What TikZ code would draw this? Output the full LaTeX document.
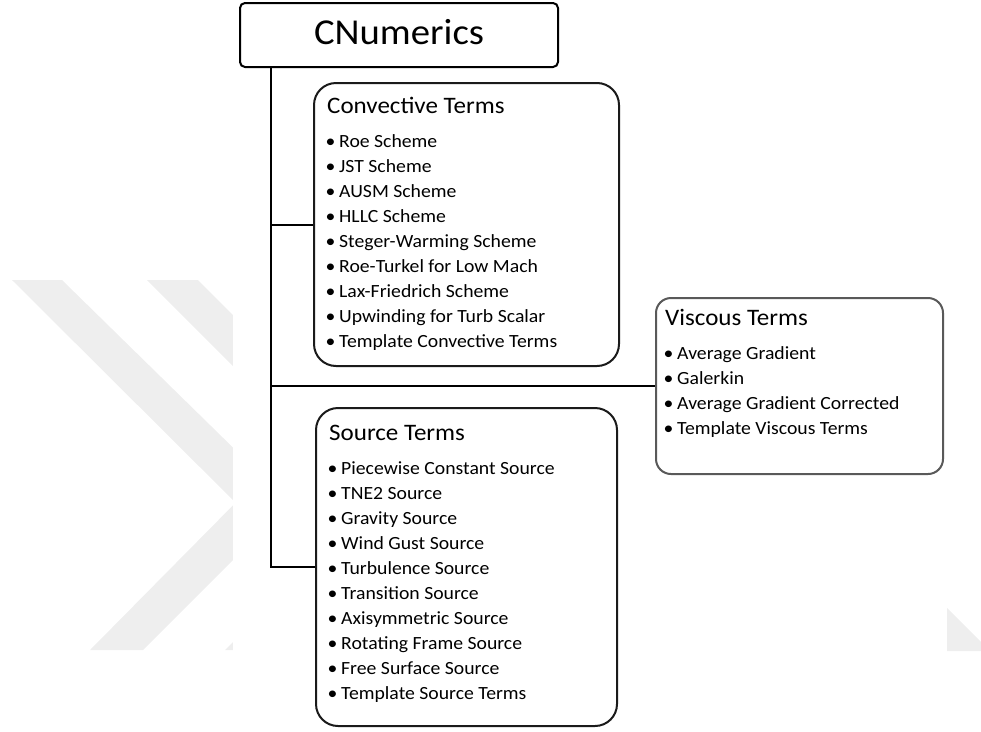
\documentclass[tikz,border=0pt]{standalone}
\usepackage{fontspec}
\setmainfont{Carlito}[FakeStretch=1.06]
\usetikzlibrary{positioning}
\definecolor{cnline}{HTML}{1A1A1A}
\definecolor{cngray}{HTML}{595959}
\definecolor{cnmark}{HTML}{EEEEEE}
\tikzset{
  rootbox/.style={rectangle, rounded corners=5pt, draw=black, line width=2pt, minimum width=318pt,
    minimum height=64pt, inner sep=0pt, text depth=6pt, font=\fontsize{36.5}{42}\selectfont},
  termbox/.style={rectangle, rounded corners=22pt, draw=cnline, line width=2pt, inner sep=0pt,
    anchor=north west},
  termtitle/.style={anchor=base west, inner sep=0pt, font=\fontsize{23.6}{28}\selectfont},
  termitem/.style={anchor=base west, inner sep=0pt, font=\fontsize{18.6}{22}\selectfont},
  branch/.style={line width=2pt, draw=black},
}

\begin{document}
\begin{tikzpicture}[x=1pt, y=-1pt]
  \useasboundingbox (0,0) rectangle (981,731);
  \fill[cnmark] (12,280) -- (62,280) -- (260,474) -- (260,527) -- cycle;
  \fill[cnmark] (147,280) -- (198,280) -- (260,342) -- (260,393) -- cycle;
  \fill[cnmark] (90,650) -- (143,650) -- (260,533) -- (260,478) -- cycle;
  \fill[cnmark] (225,650) -- (260,650) -- (260,615) -- cycle;
  \fill[cnmark] (947,608) -- (981,642) -- (981,651) -- (947,651) -- cycle;
  \fill[white] (233,0) rectangle (947,731);

  \node[rootbox] (root) at (399,35) {CNumerics};
  \node[termbox, minimum width=305pt, minimum height=283pt] (conv) at (313,82) {};
  \node[termbox, minimum width=301pt, minimum height=318pt] (src) at (315,407) {};
  \node[termbox, draw=cngray, rounded corners=15pt, minimum width=287pt, minimum height=176pt] (visc) at (655,297) {};

  \node[termtitle] (convtitle) at ([shift={(14,31)}]conv.north west) {Convective Terms};
  \node[termtitle] (srctitle) at ([shift={(14,33)}]src.north west) {Source Terms};
  \node[termtitle] (visctitle) at ([shift={(10,28)}]visc.north west) {Viscous Terms};

  \foreach \t [count=\i from 0] in {Roe Scheme, JST Scheme, AUSM Scheme, HLLC Scheme, Steger-Warming Scheme,
      Roe-Turkel for Low Mach, Lax-Friedrich Scheme, Upwinding for Turb Scalar, Template Convective Terms}
    \node[termitem] (conv\i) at ([shift={(1,34+25*\i)}]convtitle.base west) {\makebox[11pt][l]{\kern-2.5pt\textbullet}\t};
  \foreach \t [count=\i from 0] in {Piecewise Constant Source, TNE2 Source, Gravity Source, Wind Gust Source,
      Turbulence Source, Transition Source, Axisymmetric Source, Rotating Frame Source, Free Surface Source,
      Template Source Terms}
    \node[termitem] (src\i) at ([shift={(1,34+25*\i)}]srctitle.base west) {\makebox[11pt][l]{\kern-2.5pt\textbullet}\t};
  \foreach \t [count=\i from 0] in {Average Gradient, Galerkin, Average Gradient Corrected, Template Viscous Terms}
    \node[termitem] (visc\i) at ([shift={(1,34+25*\i)}]visctitle.base west) {\makebox[11pt][l]{\kern-2.5pt\textbullet}\t};

  \coordinate (trunk) at ([xshift=32pt]root.south west);
  \draw[branch] (trunk) |- (src.west);
  \foreach \b in {conv, visc}
    \draw[branch] (trunk |- \b.west) -- (\b.west);
\end{tikzpicture}
\end{document}
